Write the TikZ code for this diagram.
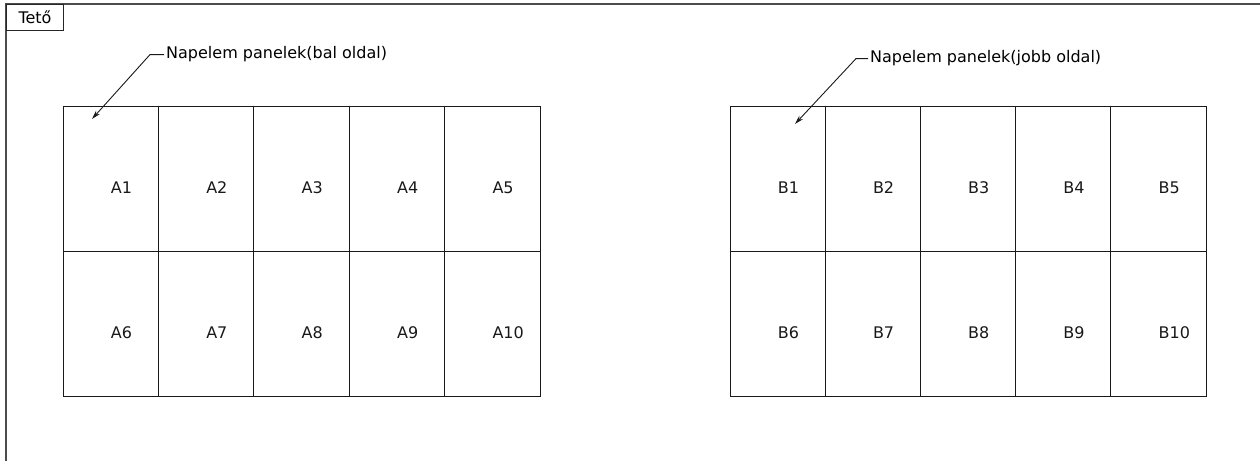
\documentclass[tikz,border=0pt]{standalone}
\usepackage{fontspec}
\setmainfont{DejaVu Sans}
\usetikzlibrary{arrows.meta}
\tikzset{
  panel/.style={draw=black!90, line width=1pt, minimum width=95.4pt,
    minimum height=145pt, inner sep=0pt, outer sep=0pt},
  panellabel/.style={anchor=west, inner sep=0pt, text=black!90},
  nyil/.style={draw=black!90, line width=0.9pt, -{Stealth[length=9pt,width=5pt]}},
}
\newcommand{\felirat}{\fontsize{16}{19}\selectfont}

\begin{document}
\begin{tikzpicture}[x=1pt, y=-1pt, font=\felirat]
  \useasboundingbox (0,0) rectangle (1260,461);

  % teto kerete
  \draw [black!70, line width=1.2pt] (1260,4) -- (6,4) -- (6,461);
  \node [draw=black!85, line width=1pt, anchor=north west, minimum width=57pt,
    minimum height=26pt, inner sep=0pt] (teto) at (6,4) {Tető};

  % napelem panelek
  \foreach \r in {0,1} {
    \foreach \c in {0,...,4} {
      \pgfmathtruncatemacro{\n}{\r*5+\c+1}
      \node [panel] (A\n) at (63+47.7+\c*95.4, 106.5+72.5+\r*145) {};
      \node [panellabel] (lA\n) at ([yshift=-8.5pt]A\n.center) {A\n};
      \node [panel, minimum width=95.2pt] (B\n) at (730+47.6+\c*95.2, 106.5+72.5+\r*145) {};
      \node [panellabel] (lB\n) at ([yshift=-8.5pt]B\n.center) {B\n};
    }
  }

  % feliratok
  \node [anchor=base west, inner sep=0pt] (balnote) at (166,58) {Napelem panelek(bal oldal)};
  \node [anchor=base west, inner sep=0pt] (jobbnote) at (870,62) {Napelem panelek(jobb oldal)};

  \coordinate (balhegy) at (92,119);
  \coordinate (jobbhegy) at (795,124);

  \draw [nyil] ([xshift=-2pt, yshift=-1pt]balnote.west) -- ++(-14,0) -- (balhegy);
  \draw [nyil] ([xshift=-2pt, yshift=-1pt]jobbnote.west) -- ++(-12,0) -- (jobbhegy);
\end{tikzpicture}
\end{document}
